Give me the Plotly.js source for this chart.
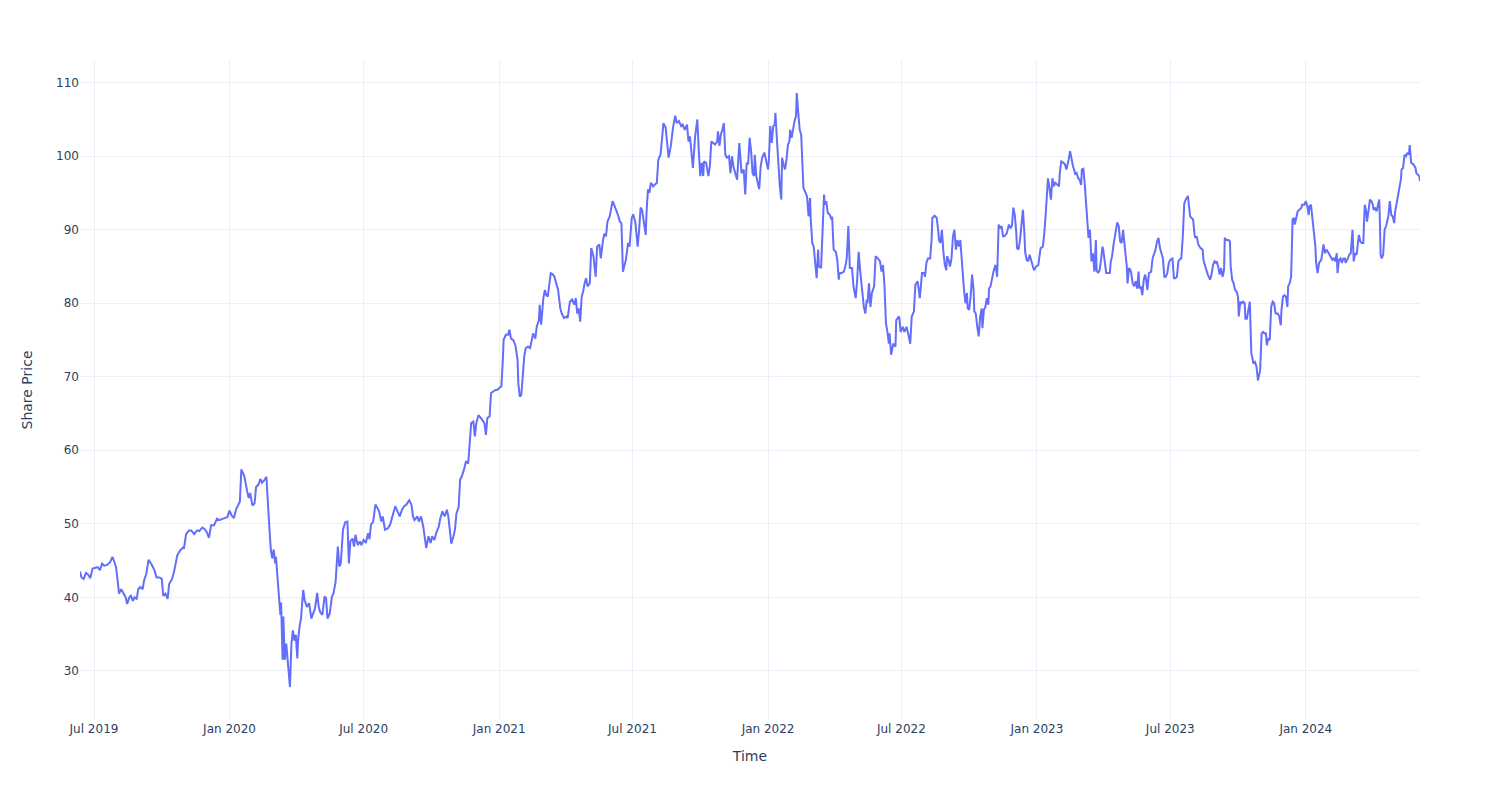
<!DOCTYPE html>
<html>
<head>
<meta charset="utf-8">
<script src="https://cdn.plot.ly/plotly-3.0.1.min.js"></script>
<style>html,body{margin:0;padding:0;background:#fff;}</style>
</head>
<body>
<div id="chart" style="width:1500px;height:800px;"></div>
<script>
// Day offsets are counted from this start date
const startDate = '2019-07-01';

const seg1Days = [-19,-17,-14,-11,-8,-5,-2,2,5,8,11,14,18,22,25,27,30,32,34,37,40,43,45,48,50,53,55,58,60,63,66,68,71,74,78,82,85,89,92,94,97,100,102,106,109,113,117,121,122,125,129,132,136,140,143,147,150,153,156,159,163,167,170,174,178,181,184,187,190,193,198,200];
const seg1Prices = [43.5,42.7,42.5,43.3,43.1,42.6,43.9,44.0,44.1,43.7,44.6,44.3,44.4,44.8,45.5,45.0,44.1,42.3,40.5,41.1,40.5,40.0,39.1,40.0,40.2,39.5,40.0,39.8,41.1,41.4,41.1,42.3,43.2,45.1,44.5,43.7,42.7,42.7,42.5,40.2,40.5,39.8,41.8,42.5,43.6,45.7,46.4,46.8,46.6,48.6,49.1,49.1,48.6,49.1,49.0,49.5,49.3,48.9,48.1,49.8,49.8,50.7,50.5,50.7,50.8,50.9,51.8,51.1,50.8,52.0,53.0,57.4];

const seg2Days = [204,208,210,212,215,218,220,223,226,228,231,234,236,238,240,242,244,246,247,249,251,253,254,256,257,259,261,263,265,266,268,270,272,274,276,277,279,281,284,286,289,292,295,297,300,303,305,307,310,313,315,317,320,323,325,328,331,333,335,338,341,344,346,348,351,353,355,358,361,363,366,369,372,374,376,379,382,384,387,390,392,395,399,402,405,409,412,415,418,421,424,428,431,433];
const seg2Prices = [56.5,54.4,53.5,54.2,52.5,52.8,55.0,55.3,56.1,55.6,55.9,56.4,51.9,49.6,46.5,45.3,46.5,44.6,45.5,42.8,40.1,37.6,39.3,31.5,37.4,31.5,33.7,31.0,29.2,27.8,33.7,35.5,34.1,34.9,31.7,34.1,36.0,37.1,41.0,39.6,38.7,39.2,37.1,37.8,38.5,40.6,38.7,38.0,37.6,40.1,39.9,37.1,37.8,40.1,40.5,42.1,46.9,44.2,44.6,49.2,50.2,50.3,44.6,47.6,48.0,46.9,48.5,47.1,47.6,47.1,47.8,47.4,48.7,47.9,49.9,50.3,52.6,52.3,51.7,50.3,51.0,49.2,49.4,49.9,51.0,52.4,51.7,51.0,51.9,52.4,52.6,53.2,52.6,51.0];

const seg3Days = [435,439,441,444,447,450,451,454,457,459,462,465,468,470,473,476,479,481,483,485,488,490,492,495,497,499,502,505,508,509,512,515,517,519,522,525,527,530,532,534,537,539,542,545,547,550,553,555,556,559,562,564,566,569,572,575,576,578,580,582,584,586,589,592,594,596,599,601,604,605,607,610,612,614,616,618,620,623,625,628,630,633,635,638,641,643,646,649,652,654,656,658,660,662,664];
const seg3Prices = [50.5,51.0,50.3,51.0,49.6,47.8,46.7,48.3,47.4,48.3,47.8,48.9,49.6,50.7,51.7,51.0,51.9,51.0,49.2,47.3,48.3,49.2,51.4,52.3,56.0,56.4,57.3,58.5,58.2,60.0,63.7,63.9,61.9,63.7,64.8,64.4,64.1,63.7,62.1,64.4,64.6,67.8,68.0,68.2,68.2,68.4,68.7,72.3,75.0,75.7,75.7,76.4,75.2,75.0,74.3,72.3,69.1,67.3,67.5,70.0,72.7,73.9,74.1,73.9,75.0,75.9,75.2,76.8,77.7,79.8,77.1,80.7,81.8,81.1,80.9,82.5,84.1,83.9,83.6,82.5,81.8,79.3,78.6,78.0,78.2,78.0,80.2,80.5,79.8,80.7,78.6,79.3,77.5,80.9,81.6];

const seg4Days = [666,668,670,673,675,678,681,683,686,688,691,693,695,697,700,702,704,706,709,712,714,716,718,720,722,725,727,730,732,735,738,740,742,744,747,749,750,752,754,756,759,761,764,766,769,771,773,776,779,780,783,786,789,791,794,797,799,802,805,807,809,811,813,816,818,819,821,823,825,827,828,831,834,836,838,840,843,846,847,849,851,853,855,857,859,862,864,866,868,871,873,876,877,879,882,884,886,888,890,892,894,896];
const seg4Prices = [82.7,83.4,82.3,82.7,87.5,86.4,83.6,87.7,88.0,86.1,88.6,89.5,89.1,91.1,91.8,93.0,93.9,93.4,92.7,91.8,91.1,90.9,84.3,85.0,85.9,88.2,87.7,91.6,92.1,90.9,87.7,90.0,93.0,92.7,90.5,89.3,92.3,95.5,95.0,96.4,95.9,96.1,96.4,99.5,100.2,102.3,104.5,103.9,101.4,99.8,101.4,103.9,105.5,104.5,104.8,104.1,104.3,103.6,104.3,102.0,102.7,100.0,98.4,102.7,104.1,105.0,100.7,97.3,99.1,97.3,99.3,99.1,97.3,98.6,102.0,101.8,101.6,102.0,103.4,101.4,103.0,103.6,104.5,100.2,99.8,100.0,97.7,100.0,98.6,97.5,96.8,101.8,100.0,97.7,98.2,94.8,99.0,99.0,102.5,100.7,97.7,97.3];

const seg5Days = [897,899,901,903,905,907,910,913,915,916,918,920,922,924,925,927,929,931,933,934,936,938,940,942,944,945,947,949,951,953,954,956,958,960,962,963,966,968,970,972,973,975,977,979,981,983,984,987,989,991,992,994,996,999,1001,1002,1004,1007,1009,1011,1012,1015,1018,1021,1022,1024,1026,1029,1031,1032,1034,1036,1038,1040,1042,1045,1047,1049,1050,1052,1054,1056,1059,1061,1064,1067,1069,1071,1073,1075,1077,1079,1080,1082,1085,1088,1089,1091,1093,1095,1098,1100,1103,1106,1108,1110,1113,1115,1118,1119,1121,1124,1127];
const seg5Prices = [100.2,97.3,96.4,95.5,98.6,99.8,100.5,98.9,98.2,99.3,104.1,101.8,104.1,104.3,105.9,102.3,98.4,95.9,94.1,99.8,98.9,98.2,99.5,101.6,102.0,103.6,102.5,103.9,104.8,105.5,108.6,105.9,103.6,102.9,99.1,95.7,95.0,94.5,91.8,94.3,91.4,88.2,87.7,85.5,83.4,87.3,85.0,84.8,89.1,94.8,93.4,93.9,92.3,92.0,91.4,91.8,87.3,87.0,85.9,83.2,84.1,84.1,84.3,85.5,86.4,90.5,84.8,84.8,82.3,81.6,80.7,83.2,87.0,84.5,82.3,79.5,78.6,80.5,80.0,82.7,79.5,81.4,82.3,86.4,86.1,85.7,84.3,85.2,82.5,77.3,76.1,74.5,75.9,73.0,74.5,74.1,77.7,77.9,78.2,76.1,76.8,76.1,76.8,75.5,74.5,78.2,78.9,82.5,83.0,82.3,80.7,84.1,84.1];

const seg6Days = [1128,1130,1132,1135,1137,1138,1141,1144,1146,1147,1149,1151,1153,1155,1157,1158,1160,1162,1164,1166,1168,1170,1172,1174,1176,1177,1179,1181,1183,1185,1186,1188,1190,1192,1194,1195,1197,1199,1201,1203,1205,1206,1208,1210,1212,1214,1215,1217,1219,1221,1223,1224,1226,1228,1230,1232,1234,1236,1239,1242,1244,1246,1248,1250,1252,1253,1255,1257,1259,1261,1263,1264,1266,1268,1270,1272,1274,1276,1279,1282,1283,1285,1288,1290,1292,1293,1295,1297,1299,1301,1303,1305,1308,1310,1311,1313,1316,1318,1320,1321,1323,1325,1327,1329,1331,1332,1334,1336,1338,1340,1341,1343,1345,1347,1349,1350,1352,1354,1356,1358];
const seg6Prices = [83.6,85.5,86.1,86.1,88.6,91.6,91.9,91.6,89.8,88.6,88.2,90.0,87.0,85.2,84.5,86.4,85.9,85.0,86.1,89.1,90.0,87.3,88.6,87.7,88.6,86.8,84.5,81.8,80.0,81.4,79.3,79.1,80.9,83.9,81.8,78.9,78.6,76.8,75.5,78.2,79.3,76.6,79.1,79.5,80.7,79.8,82.0,82.3,83.6,84.3,85.0,85.2,83.6,90.7,90.2,90.5,89.1,89.1,89.5,90.7,90.2,90.5,93.0,92.0,89.5,87.5,87.3,88.6,90.7,92.7,89.5,87.0,85.9,85.7,86.6,85.9,85.2,84.5,85.0,85.2,86.1,87.5,87.7,89.5,92.3,94.3,97.0,95.7,94.1,97.0,95.9,96.4,96.1,95.9,97.7,99.3,99.1,98.9,98.2,98.6,99.5,100.7,99.3,98.6,98.0,97.5,97.7,97.0,96.8,96.1,98.2,98.3,96.1,93.4,90.7,88.9,90.0,85.7,86.8,84.3];

const seg7Days = [1360,1361,1363,1365,1367,1369,1370,1372,1374,1376,1379,1380,1382,1384,1386,1388,1389,1391,1393,1395,1397,1398,1400,1402,1403,1405,1407,1408,1410,1412,1414,1416,1418,1419,1421,1423,1425,1427,1428,1430,1432,1435,1437,1439,1441,1443,1445,1447,1449,1451,1453,1455,1457,1459,1461,1464,1466,1468,1470,1472,1475,1476,1478,1480,1482,1485,1486,1488,1490,1492,1494,1495,1497,1499,1502,1505,1506,1508,1510,1512,1514,1515,1517,1519,1521,1523,1524,1526,1528,1530,1532,1534,1535,1537,1540,1542,1543,1545,1547,1549,1551,1553,1554,1556,1558,1560,1562,1563,1565,1567,1569,1571,1572,1574,1576,1578,1580,1582,1583,1585,1587,1589];
const seg7Prices = [88.6,84.5,84.1,84.5,85.9,87.7,87.3,85.5,84.1,84.1,84.1,85.5,86.4,88.0,89.3,90.2,91.0,90.5,88.4,88.2,90.0,88.9,87.3,85.0,82.7,84.8,84.5,84.1,82.7,82.3,83.0,82.0,84.3,82.0,82.3,81.1,83.2,83.9,83.4,81.8,84.1,84.3,86.1,86.6,87.3,88.4,88.9,87.5,86.8,86.1,83.6,83.6,84.1,85.5,85.9,86.1,83.4,83.4,83.6,85.7,86.1,86.1,89.1,93.6,94.1,94.6,93.6,91.8,91.6,91.4,89.3,88.9,89.1,88.0,87.5,87.3,85.9,85.0,84.5,83.9,83.2,83.2,83.9,85.2,85.7,85.5,85.7,85.0,83.9,84.8,83.6,84.5,88.9,88.6,88.6,88.4,85.0,83.2,82.7,81.8,81.6,80.9,78.2,80.2,80.0,80.2,80.0,77.9,77.9,79.3,80.2,73.2,72.7,71.8,72.0,71.4,69.5,70.7,70.9,75.9,76.1,75.9];

const seg8Days = [1591,1592,1594,1596,1598,1600,1602,1604,1607,1609,1611,1612,1614,1616,1618,1620,1621,1623,1625,1626,1627,1629,1630,1632,1634,1636,1639,1640,1643,1645,1647,1649,1650,1652,1654,1656,1658,1659,1661,1663,1666,1668,1669,1671,1673,1675,1677,1679,1681,1683,1685,1687,1688,1690,1692,1694,1696,1698,1699,1702,1704,1706,1707.5,1708.4,1710,1712,1714,1716,1717,1719,1721,1723,1725,1727,1728,1730,1732,1734,1736,1737,1739,1741,1743,1744.7,1745.6,1746.5,1748,1750,1752,1754,1756,1757,1759,1761,1763,1765,1766,1768,1770,1772,1774,1775,1777,1779,1781,1783,1785,1786,1788,1791,1794,1795,1797,1799,1800];
const seg8Prices = [75.9,74.3,75.2,75.0,79.5,80.2,80.0,78.6,78.6,78.2,77.0,79.1,80.9,81.1,80.9,79.5,82.3,82.7,83.6,87.3,91.4,91.6,90.7,91.6,92.5,92.7,93.0,93.4,93.4,93.9,93.2,92.0,93.2,93.4,91.4,89.5,87.7,85.5,84.1,85.5,85.9,87.3,88.0,86.8,87.3,87.0,86.6,86.1,85.9,86.1,85.7,86.8,84.1,85.9,86.1,85.5,86.1,86.1,85.5,86.1,86.6,86.8,89.1,90.0,85.7,86.8,86.6,88.2,89.3,88.4,88.2,88.2,93.4,92.5,91.1,92.5,94.1,93.9,93.4,92.7,93.0,92.5,93.4,94.1,90.9,86.6,86.1,86.6,90.0,90.5,91.4,91.8,93.9,92.0,91.8,90.9,92.3,93.4,94.3,95.7,96.8,98.2,98.4,100.2,100.0,100.5,100.2,101.5,99.1,98.9,98.4,97.7,97.5,97.3,96.6];

const dayOffsets = [].concat(seg1Days, seg2Days, seg3Days, seg4Days, seg5Days, seg6Days, seg7Days, seg8Days);
const prices = [].concat(seg1Prices, seg2Prices, seg3Prices, seg4Prices, seg5Prices, seg6Prices, seg7Prices, seg8Prices);

const base = Date.parse(startDate + 'T00:00:00Z');
const dates = dayOffsets.map(function (d) {
  return new Date(base + d * 86400000).toISOString().slice(0, 19).replace('T', ' ');
});

const trace = {
  type: 'scatter',
  mode: 'lines',
  x: dates,
  y: prices.slice(0, dates.length),
  line: { color: '#636efa', width: 2 },
  hoverinfo: 'x+y'
};

const layout = {
  width: 1500,
  height: 800,
  margin: { l: 80, r: 80, t: 60, b: 80 },
  paper_bgcolor: '#ffffff',
  plot_bgcolor: '#ffffff',
  font: { family: 'DejaVu Sans, sans-serif', size: 12, color: '#2a3f5f' },
  showlegend: false,
  xaxis: {
    title: { text: 'Time', font: { size: 14, color: '#2a3f5f' }, standoff: 16 },
    type: 'date',
    dtick: 'M6',
    tick0: '2019-07-01',
    tickformat: '%b %Y',
    gridcolor: '#EBF0F8',
    gridwidth: 1,
    showline: false,
    zeroline: false,
    ticks: '',
    automargin: true
  },
  yaxis: {
    title: { text: 'Share Price', font: { size: 14, color: '#2a3f5f' }, standoff: 20 },
    dtick: 10,
    gridcolor: '#EBF0F8',
    gridwidth: 1,
    showline: false,
    zeroline: false,
    ticks: '',
    automargin: true
  }
};

Plotly.newPlot('chart', [trace], layout, { displayModeBar: false, responsive: false });
</script>
</body>
</html>
